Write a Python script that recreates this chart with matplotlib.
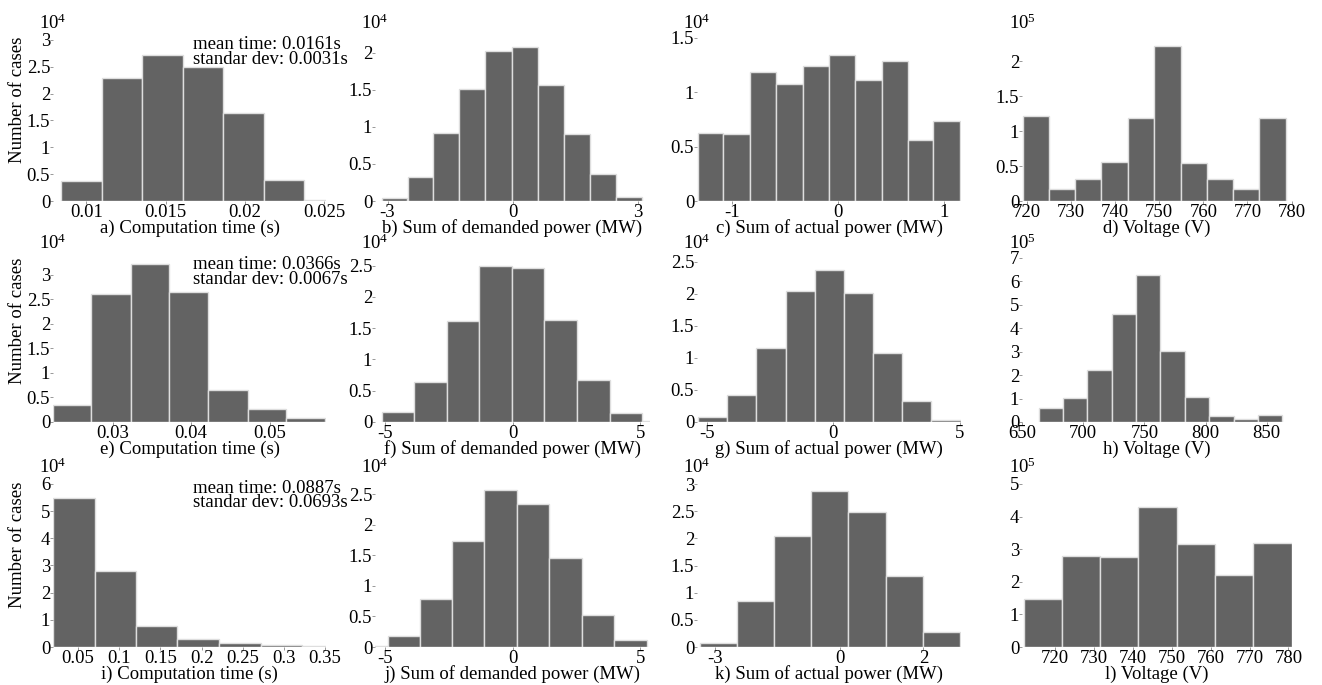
import matplotlib
matplotlib.use("Agg")
import matplotlib.pyplot as plt
from matplotlib.ticker import FuncFormatter

plt.rcParams['font.family'] = ['Liberation Serif', 'DejaVu Serif']
plt.rcParams['mathtext.fontset'] = 'custom'
plt.rcParams['mathtext.rm'] = 'Liberation Serif'
plt.rcParams['mathtext.it'] = 'Liberation Serif:italic'

# histogram bin edges and counts (counts in units of the multiplier shown above each panel)
a_edges = [0.0084, 0.0110, 0.0135, 0.0161, 0.0186, 0.0212, 0.0237, 0.0263]
a_counts = [0.37, 2.29, 2.72, 2.50, 1.63, 0.39, 0.02]
b_edges = [-3.14, -2.52, -1.90, -1.28, -0.66, -0.02, 0.60, 1.23, 1.86, 2.49, 3.11]
b_counts = [0.04, 0.33, 0.92, 1.51, 2.02, 2.08, 1.57, 0.90, 0.36, 0.05]
c_edges = [-1.32, -1.085, -0.833, -0.588, -0.336, -0.088, 0.160, 0.409, 0.654, 0.896, 1.148]
c_counts = [0.63, 0.62, 1.19, 1.08, 1.24, 1.34, 1.11, 1.29, 0.56, 0.74]
d_edges = [719.1, 725.0, 731.0, 736.9, 742.9, 748.9, 754.9, 760.8, 766.7, 772.7, 778.7]
d_counts = [1.22, 0.17, 0.31, 0.56, 1.19, 2.21, 0.55, 0.32, 0.17, 1.18]

e_edges = [0.0224, 0.0273, 0.0323, 0.0372, 0.0422, 0.0472, 0.0521, 0.0571]
e_counts = [0.34, 2.60, 3.21, 2.65, 0.66, 0.27, 0.09]
f_edges = [-5.12, -3.86, -2.59, -1.31, -0.03, 1.24, 2.53, 3.80, 5.09, 6.37]
f_counts = [0.165, 0.644, 1.606, 2.50, 2.457, 1.622, 0.67, 0.144, 0.01]
g_edges = [-5.33, -4.18, -3.03, -1.88, -0.72, 0.42, 1.58, 2.72, 3.88, 5.04]
g_counts = [0.078, 0.416, 1.149, 2.04, 2.375, 2.01, 1.07, 0.327, 0.036]
h_edges = [664.1, 683.5, 703.1, 723.2, 743.1, 762.9, 783.1, 802.9, 823.1, 843.2, 862.8]
h_counts = [0.58, 1.02, 2.23, 4.60, 6.28, 3.05, 1.05, 0.27, 0.14, 0.31]

i_edges = [0.0199, 0.0701, 0.1203, 0.1706, 0.2208, 0.2719, 0.3221, 0.3723]
i_counts = [5.48, 2.80, 0.76, 0.29, 0.135, 0.07, 0.02]
j_edges = [-6.15, -4.88, -3.63, -2.37, -1.11, 0.17, 1.44, 2.71, 3.98, 5.26]
j_counts = [0.01, 0.185, 0.784, 1.727, 2.565, 2.337, 1.454, 0.528, 0.109]
k_edges = [-3.36, -2.48, -1.58, -0.70, 0.20, 1.10, 1.98, 2.88]
k_counts = [0.067, 0.853, 2.05, 2.877, 2.485, 1.30, 0.27]
l_edges = [711.9, 721.7, 731.6, 741.4, 751.3, 761.2, 771.0, 780.8]
l_counts = [1.47, 2.80, 2.75, 4.29, 3.16, 2.22, 3.19]

xlabels = ["a) Computation time (s)", "b) Sum of demanded power (MW)",
           "c) Sum of actual power (MW)", "d) Voltage (V)",
           "e) Computation time (s)", "f) Sum of demanded power (MW)",
           "g) Sum of actual power (MW)", "h) Voltage (V)",
           "i) Computation time (s)", "j) Sum of demanded power (MW)",
           "k) Sum of actual power (MW)", "l) Voltage (V)"]
multipliers = [4, 4, 4, 5, 4, 4, 4, 5, 4, 4, 4, 5]
stats = [("0.0161s", "0.0031s"), ("0.0366s", "0.0067s"), ("0.0887s", "0.0693s")]

panels = [
    (a_edges, a_counts, (0.0079, 0.0251), 3.035, [0, 0.5, 1, 1.5, 2, 2.5, 3], [0.01, 0.015, 0.02, 0.025]),
    (b_edges, b_counts, (-3.30, 3.30), 2.197, [0, 0.5, 1, 1.5, 2], [-3, 0, 3]),
    (c_edges, c_counts, (-1.333, 1.157), 1.482, [0, 0.5, 1, 1.5], [-1, 0, 1]),
    (d_edges, d_counts, (718.9, 780.1), 2.33, [0, 0.5, 1, 1.5, 2], [720, 730, 740, 750, 760, 770, 780]),
    (e_edges, e_counts, (0.0224, 0.0572), 3.34, [0, 0.5, 1, 1.5, 2, 2.5, 3], [0.03, 0.04, 0.05]),
    (f_edges, f_counts, (-5.41, 5.39), 2.62, [0, 0.5, 1, 1.5, 2, 2.5], [-5, 0, 5]),
    (g_edges, g_counts, (-5.38, 5.05), 2.56, [0, 0.5, 1, 1.5, 2, 2.5], [-5, 0, 5]),
    (h_edges, h_counts, (650, 870.7), 6.98, [0, 1, 2, 3, 4, 5, 6, 7], [650, 700, 750, 800, 850]),
    (i_edges, i_counts, (0.0195, 0.351), 6.07, [0, 1, 2, 3, 4, 5, 6], [0.05, 0.1, 0.15, 0.2, 0.25, 0.3, 0.35]),
    (j_edges, j_counts, (-5.41, 5.39), 2.70, [0, 0.5, 1, 1.5, 2, 2.5], [-5, 0, 5]),
    (k_edges, k_counts, (-3.43, 2.90), 3.04, [0, 0.5, 1, 1.5, 2, 2.5, 3], [-3, 0, 2]),
    (l_edges, l_counts, (711.5, 780.9), 5.06, [0, 1, 2, 3, 4, 5], [720, 730, 740, 750, 760, 770, 780]),
]

W, H = 1322, 685
FS = 13.5
fig = plt.figure(figsize=(W / 100, H / 100), dpi=100)

# pixel boxes of the plot areas
cols = [(53, 326), (375, 650), (697, 961), (1022, 1292)]
rows = [(38, 201), (258, 422), (482, 647)]

fmt = FuncFormatter(lambda v, p: "%g" % v)

for n, (edges, counts, xlim, ytop, yticks, xticks) in enumerate(panels):
    r, c = divmod(n, 4)
    left, right = cols[c]
    top, bottom = rows[r]
    ax = fig.add_axes([left / W, 1 - bottom / H, (right - left) / W, (bottom - top) / H])
    widths = [edges[k + 1] - edges[k] for k in range(len(counts))]
    ax.bar(edges[:-1], counts, width=widths, align='edge',
           color='#636363', edgecolor='#dedede', linewidth=1.0)
    ax.set_xlim(*xlim)
    ax.set_ylim(0, ytop)
    ax.set_yticks(yticks)
    ax.set_xticks(xticks)
    ax.xaxis.set_major_formatter(fmt)
    ax.yaxis.set_major_formatter(fmt)
    for s in ax.spines.values():
        s.set_visible(False)
    ax.tick_params(axis='both', labelsize=FS, length=2, width=0.6, color='#888888', pad=0)
    ax.set_xlabel(xlabels[n], fontsize=FS, labelpad=-1)
    ax.text(0, 1.03, "$10^{%d}$" % multipliers[n], transform=ax.transAxes,
            ha='center', va='bottom', fontsize=FS)
    if c == 0:
        ax.set_ylabel("Number of cases", fontsize=FS)
        ax.yaxis.set_label_coords((26 - left) / (right - left), 0.62)
        mean, sd = stats[r]
        ax.text(0.513, 1.01, "mean time: %s\nstandar dev: %s" % (mean, sd),
                transform=ax.transAxes, ha='left', va='top', fontsize=FS,
                linespacing=0.78, clip_on=False)

fig.savefig("out.png", dpi=100)
